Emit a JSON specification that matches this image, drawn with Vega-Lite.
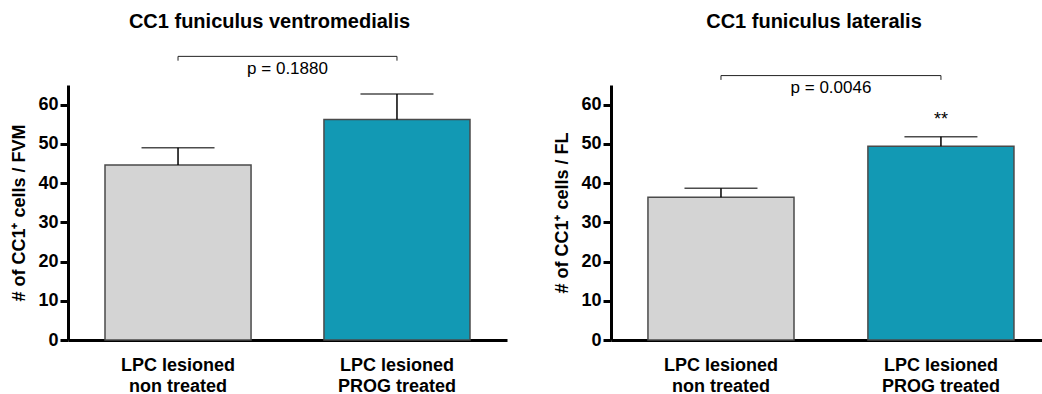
{
  "$schema": "https://vega.github.io/schema/vega-lite/v6.json",
  "padding": {"left": 10, "top": 11, "right": 0, "bottom": 0},
  "spacing": 46,
  "background": "white",
  "config": {
    "font": "Liberation Sans",
    "view": {"stroke": null},
    "axisY": {
      "domainColor": "black", "domainWidth": 3, "tickColor": "black", "tickWidth": 3, "tickSize": 8,
      "labelFontSize": 18, "labelFontWeight": "bold", "labelColor": "black", "labelPadding": 2,
      "titleFontSize": 18, "titleFontWeight": "bold", "titleColor": "black", "titlePadding": 9,
      "grid": false, "values": [0, 10, 20, 30, 40, 50, 60]
    },
    "axisX": {
      "domainColor": "black", "domainWidth": 3, "ticks": false, "labelAngle": 0,
      "labelFontSize": 18, "labelFontWeight": "bold", "labelColor": "black", "labelPadding": 16,
      "labelLineHeight": 21, "title": null, "labelExpr": "split(datum.label, '|')"
    }
  },
  "datasets": {
    "fvm": [
      {"group": "LPC lesioned|non treated", "mean": 44.6, "upper": 49.0},
      {"group": "LPC lesioned|PROG treated", "mean": 56.2, "upper": 62.7}
    ],
    "fl": [
      {"group": "LPC lesioned|non treated", "mean": 36.4, "upper": 38.7},
      {"group": "LPC lesioned|PROG treated", "mean": 49.4, "upper": 51.8}
    ],
    "fvmBracket": [
      {"a": "LPC lesioned|non treated", "b": "LPC lesioned|PROG treated", "y": 72.3, "ytick": 71.2, "ty": 69.0, "label": "p = 0.1880"}
    ],
    "flBracket": [
      {"a": "LPC lesioned|non treated", "b": "LPC lesioned|PROG treated", "y": 67.4, "ytick": 66.3, "ty": 64.2, "label": "p = 0.0046"}
    ],
    "flStar": [
      {"group": "LPC lesioned|PROG treated", "y": 56.0, "label": "**"}
    ]
  },
  "hconcat": [
    {
      "width": 439,
      "height": 255,
      "title": {"text": "CC1 funiculus ventromedialis", "fontSize": 20, "fontWeight": "bold", "color": "black", "anchor": "middle", "frame": "group", "dx": -18, "offset": 24},
      "layer": [
        {
          "data": {"name": "fvm"},
          "mark": {"type": "bar", "stroke": "#4a4a4a", "strokeWidth": 1.5},
          "encoding": {
            "x": {"field": "group", "type": "nominal", "sort": null, "scale": {"domain": ["LPC lesioned|non treated", "LPC lesioned|PROG treated"], "paddingInner": 0.333, "paddingOuter": 0.169, "align": 0.5}},
            "y": {"field": "mean", "type": "quantitative", "scale": {"domain": [0, 65], "nice": false}, "axis": {"title": "# of CC1⁺ cells / FVM"}},
            "color": {"field": "group", "type": "nominal", "sort": null, "scale": {"domain": ["LPC lesioned|non treated", "LPC lesioned|PROG treated"], "range": ["#d4d4d4", "#1299b4"]}, "legend": null}
          }
        },
        {
          "data": {"name": "fvm"},
          "mark": {"type": "rule", "color": "black", "strokeWidth": 1.5},
          "encoding": {
            "x": {"field": "group", "type": "nominal", "sort": null},
            "y": {"field": "mean", "type": "quantitative"},
            "y2": {"field": "upper"}
          }
        },
        {
          "data": {"name": "fvm"},
          "mark": {"type": "tick", "color": "black", "thickness": 1.5, "size": 73},
          "encoding": {
            "x": {"field": "group", "type": "nominal", "sort": null},
            "y": {"field": "upper", "type": "quantitative"}
          }
        },
        {
          "data": {"name": "fvmBracket"},
          "mark": {"type": "rule", "color": "#222", "strokeWidth": 1},
          "encoding": {
            "x": {"field": "a", "type": "nominal", "sort": null},
            "x2": {"field": "b"},
            "y": {"field": "y", "type": "quantitative"}
          }
        },
        {
          "data": {"name": "fvmBracket"},
          "mark": {"type": "rule", "color": "#222", "strokeWidth": 1},
          "encoding": {
            "x": {"field": "a", "type": "nominal", "sort": null},
            "y": {"field": "y", "type": "quantitative"},
            "y2": {"field": "ytick"}
          }
        },
        {
          "data": {"name": "fvmBracket"},
          "mark": {"type": "rule", "color": "#222", "strokeWidth": 1},
          "encoding": {
            "x": {"field": "b", "type": "nominal", "sort": null},
            "y": {"field": "y", "type": "quantitative"},
            "y2": {"field": "ytick"}
          }
        },
        {
          "data": {"name": "fvmBracket"},
          "mark": {"type": "text", "fontSize": 17, "color": "black", "dx": 109.5, "baseline": "middle"},
          "encoding": {
            "x": {"field": "a", "type": "nominal", "sort": null},
            "y": {"field": "ty", "type": "quantitative"},
            "text": {"field": "label"}
          }
        }
      ]
    },
    {
      "width": 432,
      "height": 255,
      "title": {"text": "CC1 funiculus lateralis", "fontSize": 20, "fontWeight": "bold", "color": "black", "anchor": "middle", "frame": "group", "dx": -13, "offset": 43},
      "layer": [
        {
          "data": {"name": "fl"},
          "mark": {"type": "bar", "stroke": "#4a4a4a", "strokeWidth": 1.5},
          "encoding": {
            "x": {"field": "group", "type": "nominal", "sort": null, "scale": {"domain": ["LPC lesioned|non treated", "LPC lesioned|PROG treated"], "paddingInner": 0.336, "paddingOuter": 0.15, "align": 0.56}},
            "y": {"field": "mean", "type": "quantitative", "scale": {"domain": [0, 65], "nice": false}, "axis": {"title": "# of CC1⁺ cells / FL"}},
            "color": {"field": "group", "type": "nominal", "sort": null, "scale": {"domain": ["LPC lesioned|non treated", "LPC lesioned|PROG treated"], "range": ["#d4d4d4", "#1299b4"]}, "legend": null}
          }
        },
        {
          "data": {"name": "fl"},
          "mark": {"type": "rule", "color": "black", "strokeWidth": 1.5},
          "encoding": {
            "x": {"field": "group", "type": "nominal", "sort": null},
            "y": {"field": "mean", "type": "quantitative"},
            "y2": {"field": "upper"}
          }
        },
        {
          "data": {"name": "fl"},
          "mark": {"type": "tick", "color": "black", "thickness": 1.5, "size": 73},
          "encoding": {
            "x": {"field": "group", "type": "nominal", "sort": null},
            "y": {"field": "upper", "type": "quantitative"}
          }
        },
        {
          "data": {"name": "flBracket"},
          "mark": {"type": "rule", "color": "#222", "strokeWidth": 1},
          "encoding": {
            "x": {"field": "a", "type": "nominal", "sort": null},
            "x2": {"field": "b"},
            "y": {"field": "y", "type": "quantitative"}
          }
        },
        {
          "data": {"name": "flBracket"},
          "mark": {"type": "rule", "color": "#222", "strokeWidth": 1},
          "encoding": {
            "x": {"field": "a", "type": "nominal", "sort": null},
            "y": {"field": "y", "type": "quantitative"},
            "y2": {"field": "ytick"}
          }
        },
        {
          "data": {"name": "flBracket"},
          "mark": {"type": "rule", "color": "#222", "strokeWidth": 1},
          "encoding": {
            "x": {"field": "b", "type": "nominal", "sort": null},
            "y": {"field": "y", "type": "quantitative"},
            "y2": {"field": "ytick"}
          }
        },
        {
          "data": {"name": "flBracket"},
          "mark": {"type": "text", "fontSize": 17, "color": "black", "dx": 110, "baseline": "middle"},
          "encoding": {
            "x": {"field": "a", "type": "nominal", "sort": null},
            "y": {"field": "ty", "type": "quantitative"},
            "text": {"field": "label"}
          }
        },
        {
          "data": {"name": "flStar"},
          "mark": {"type": "text", "fontSize": 18, "color": "black", "baseline": "middle"},
          "encoding": {
            "x": {"field": "group", "type": "nominal", "sort": null},
            "y": {"field": "y", "type": "quantitative"},
            "text": {"field": "label"}
          }
        }
      ]
    }
  ]
}
